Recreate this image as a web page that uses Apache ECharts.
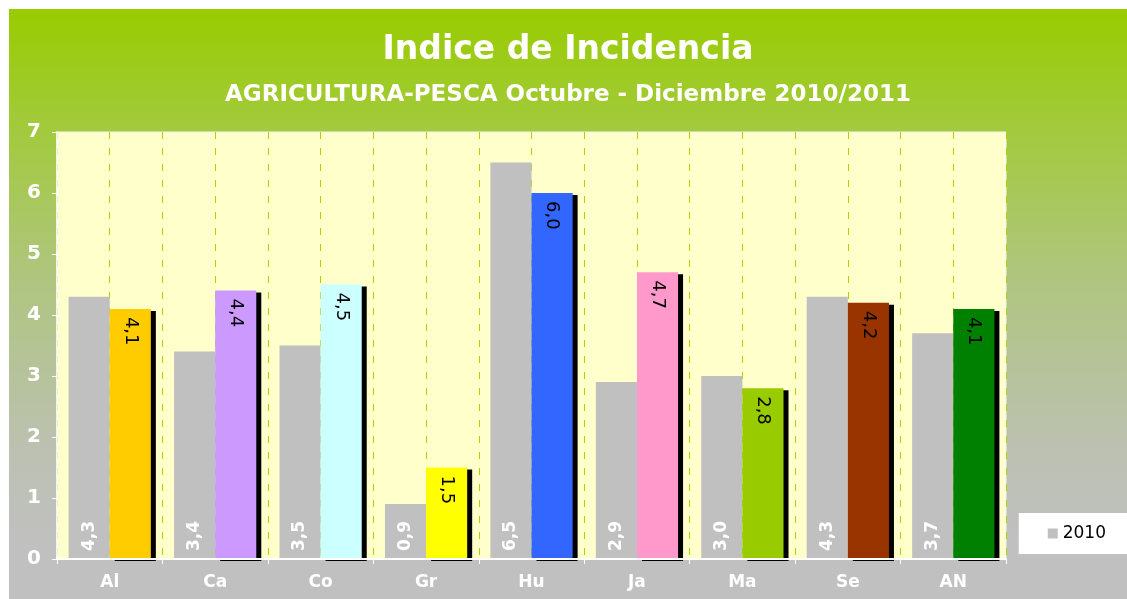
<!DOCTYPE html>
<html>
<head>
<meta charset="utf-8">
<script src="https://cdn.jsdelivr.net/npm/echarts@6/dist/echarts.min.js"></script>
<style>
html, body { margin: 0; padding: 0; background: #fff; }
#chart { position: absolute; left: 9px; top: 9px; width: 1118px; height: 590px; }
</style>
</head>
<body>
<div id="chart"></div>
<script>
var categories = ['Al', 'Ca', 'Co', 'Gr', 'Hu', 'Ja', 'Ma', 'Se', 'AN'];
var vals2010 = [4.3, 3.4, 3.5, 0.9, 6.5, 2.9, 3.0, 4.3, 3.7];
var vals2011 = [4.1, 4.4, 4.5, 1.5, 6.0, 4.7, 2.8, 4.2, 4.1];
var colors2011 = ['#ffcc00', '#cc99ff', '#ccffff', '#ffff00', '#3366ff', '#ff99cc', '#99cc00', '#993300', '#008000'];

var font = 'DejaVu Sans';
// half-category axis, only used for the dashed vertical lines
var halfCats = [];
for (var i = 0; i < categories.length * 2; i++) halfCats.push('h' + i);

function fmt(p) {
	return p.value.toFixed(1).replace('.', ',');
}

var chart = echarts.init(document.getElementById('chart'));
var option = {
	backgroundColor: {
		type: 'linear', x: 0, y: 0, x2: 0, y2: 1,
		colorStops: [
			{offset: 0, color: '#99cc00'},
			{offset: 0.2, color: '#a2ca3c'},
			{offset: 0.45, color: '#afc57e'},
			{offset: 0.75, color: '#bcc1b2'},
			{offset: 0.9, color: '#c0c0c0'},
			{offset: 1, color: '#c0c0c0'}
		]
	},
	animation: false,
	title: [{
		text: 'Indice de Incidencia',
		left: 'center',
		top: 20,
		textStyle: {color: '#fff', fontFamily: font, fontWeight: 'bold', fontSize: 33}
	}, {
		text: 'AGRICULTURA-PESCA Octubre - Diciembre 2010/2011',
		left: 'center',
		top: 70,
		textStyle: {color: '#fff', fontFamily: font, fontWeight: 'bold', fontSize: 23}
	}],
	legend: {
		data: ['2010'],
		icon: 'rect',
		right: 0,
		top: 504,
		padding: [12, 21, 12, 29],
		backgroundColor: '#fff',
		itemWidth: 10,
		itemHeight: 10,
		itemGap: 5,
		textStyle: {color: '#000', fontFamily: font, fontSize: 17}
	},
	grid: {
		left: 48, right: 121, top: 123, bottom: 40,
		show: true,
		backgroundColor: '#ffffcc',
		borderColor: '#f4f4f4',
		borderWidth: 1
	},
	xAxis: [{
		type: 'category',
		data: categories,
		z: 5,
		axisLine: {lineStyle: {color: '#fff', width: 2}},
		axisTick: {show: true, length: 5, lineStyle: {color: '#fff'}},
		axisLabel: {color: '#fff', fontFamily: font, fontWeight: 'bold', fontSize: 17, margin: 15},
		splitLine: {show: false}
	}, {
		type: 'category',
		data: halfCats,
		position: 'bottom',
		axisLine: {show: false},
		axisTick: {show: false},
		axisLabel: {show: false},
		splitLine: {show: true, interval: 0, lineStyle: {color: '#a8d400', width: 1, type: [7, 9]}}
	}],
	yAxis: {
		type: 'value',
		min: 0,
		max: 7,
		interval: 1,
		axisLine: {show: true, lineStyle: {color: '#fff', width: 1.5}},
		axisTick: {show: true, length: 5, lineStyle: {color: '#fff'}},
		axisLabel: {color: '#fff', fontFamily: font, fontWeight: 'bold', fontSize: 20, margin: 16},
		splitLine: {show: false}
	},
	series: [{
		name: '2010',
		type: 'bar',
		xAxisIndex: 0,
		data: vals2010,
		barGap: '0%',
		barCategoryGap: '22%',
		itemStyle: {color: '#c0c0c0'},
		label: {
			show: true,
			position: 'insideBottom',
			distance: 8,
			rotate: 90,
			align: 'left',
			verticalAlign: 'middle',
			color: '#fff',
			fontFamily: font,
			fontWeight: 'bold',
			fontSize: 17,
			formatter: fmt
		}
	}, {
		name: '2011',
		type: 'bar',
		xAxisIndex: 0,
		data: vals2011.map(function (v, i) {
			return {value: v, itemStyle: {color: colors2011[i]}};
		}),
		itemStyle: {
			shadowColor: '#000',
			shadowBlur: 0,
			shadowOffsetX: 5,
			shadowOffsetY: 2
		},
		label: {
			show: true,
			position: 'insideTop',
			distance: 8,
			rotate: -90,
			align: 'left',
			verticalAlign: 'middle',
			color: '#000',
			fontFamily: font,
			fontSize: 18,
			formatter: fmt
		}
	}]
};
chart.setOption(option);
</script>
</body>
</html>
